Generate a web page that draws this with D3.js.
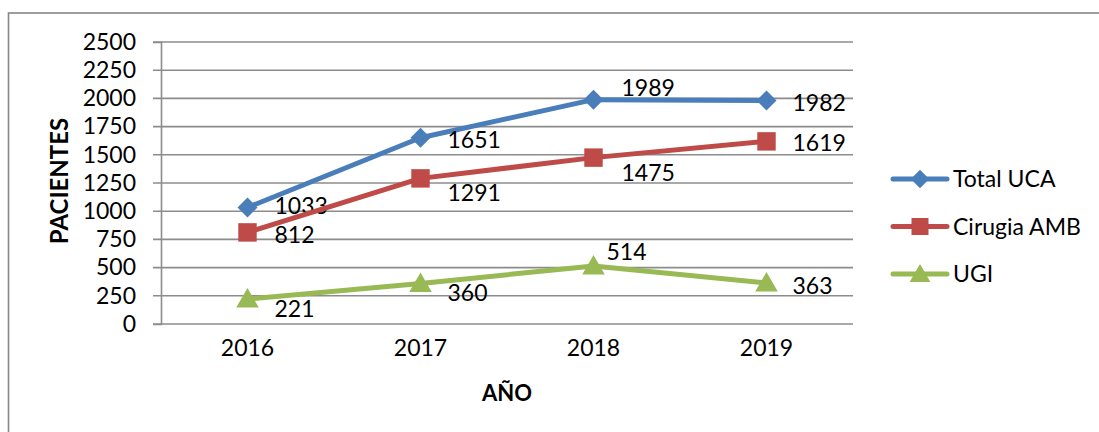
<!DOCTYPE html>
<html>
<head>
<meta charset="utf-8">
<script src="https://cdn.jsdelivr.net/npm/d3@7"></script>
<style>
  body { margin: 0; background: #fff; }
  text { font-family: Lato, "Open Sans", sans-serif; fill: #000; }
</style>
</head>
<body>
<div id="canvas"></div>
<script>
// data
var years = ["2016", "2017", "2018", "2019"];
var totalUCA = [1033, 1651, 1989, 1982];
var cirugiaAMB = [812, 1291, 1475, 1619];
var ugi = [221, 360, 514, 363];
var seriesNames = ["Total UCA", "Cirugia AMB", "UGI"];
var yTicks = [0, 250, 500, 750, 1000, 1250, 1500, 1750, 2000, 2250, 2500];

// label nudges (pixels) so labels sit like the original
var labelNudge = [
  [[27, -2], [27, 2], [28, -12], [26, 3]],
  [[27, 3], [27, 15], [28, 15], [26, 2]],
  [[27, 10], [27, 10], [13, -14], [26, 3]]
];

var width = 1099, height = 432;
var margin = {left: 161, right: 246, top: 42, bottom: 108};

var svg = d3.select("#canvas").append("svg")
  .attr("width", width)
  .attr("height", height);

// outer chart border (cropped on right and bottom)
svg.append("rect")
  .attr("x", 8.5).attr("y", 13)
  .attr("width", width + 20).attr("height", height + 20)
  .attr("fill", "none")
  .attr("stroke", "#868686")
  .attr("stroke-width", 1.6);

var xScale = d3.scaleBand().domain(years).range([margin.left, width - margin.right]);
var yScale = d3.scaleLinear().domain([0, 2500]).range([height - margin.bottom, margin.top]);

// horizontal gridlines
svg.append("g").selectAll("line")
  .data(yTicks).enter().append("line")
  .attr("x1", margin.left - 8)
  .attr("x2", width - margin.right)
  .attr("y1", function(d){ return yScale(d); })
  .attr("y2", function(d){ return yScale(d); })
  .attr("stroke", "#8c8c8c")
  .attr("stroke-width", 1.6);

// y axis
var yAxis = svg.append("g")
  .attr("transform", "translate(" + margin.left + ",0)")
  .call(d3.axisLeft(yScale).tickValues(yTicks).tickFormat(d3.format("d")).tickSize(8).tickPadding(17));
yAxis.select(".domain").attr("stroke", "#8c8c8c").attr("stroke-width", 1.6);
yAxis.selectAll(".tick line").remove();
yAxis.selectAll("text").attr("font-size", 23).attr("fill", "#000")
  .style("font-family", "Lato, sans-serif");

// x axis labels
var xAxis = svg.append("g")
  .attr("transform", "translate(0," + (height - margin.bottom) + ")")
  .call(d3.axisBottom(xScale).tickSize(0).tickPadding(16));
xAxis.select(".domain").remove();
xAxis.selectAll("text").attr("font-size", 23).attr("fill", "#000")
  .style("font-family", "Lato, sans-serif");

// axis titles
svg.append("text")
  .attr("transform", "translate(68," + (yScale(1250) - 2) + ") rotate(-90)")
  .attr("text-anchor", "middle")
  .attr("font-size", 24)
  .attr("font-weight", "bold")
  .text("PACIENTES");

svg.append("text")
  .attr("x", 507).attr("y", 401)
  .attr("text-anchor", "middle")
  .attr("font-size", 22)
  .attr("font-weight", "bold")
  .text("AÑO");

var colors = ["#4a7ebb", "#be4b48", "#98b954"];
var allSeries = [totalUCA, cirugiaAMB, ugi];
// diamond = square turned 45 degrees
var symbols = [d3.symbolSquare, d3.symbolSquare, d3.symbolTriangle];
var symbolSizes = [200, 340, 220];
var symbolTurn = [" rotate(45)", "", ""];

var genLine = d3.line()
  .x(function(d, i){ return xScale(years[i]) + xScale.bandwidth() / 2; })
  .y(function(d){ return yScale(d); });

allSeries.forEach(function(values, s){
  var g = svg.append("g");
  g.append("path")
    .attr("d", genLine(values))
    .attr("fill", "none")
    .attr("stroke", colors[s])
    .attr("stroke-width", 5)
    .attr("stroke-linejoin", "round");

  g.selectAll("path.mark")
    .data(values).enter().append("path")
    .attr("class", "mark")
    .attr("d", d3.symbol().type(symbols[s]).size(symbolSizes[s]))
    .attr("transform", function(d, i){
      var ty = s == 2 ? 2 : 0;
      return "translate(" + (xScale(years[i]) + xScale.bandwidth() / 2) + "," + (yScale(d) + ty) + ")" + symbolTurn[s];
    })
    .attr("fill", colors[s]);

  g.selectAll("text")
    .data(values).enter().append("text")
    .attr("x", function(d, i){ return xScale(years[i]) + xScale.bandwidth() / 2 + labelNudge[s][i][0]; })
    .attr("y", function(d, i){ return yScale(d) + labelNudge[s][i][1]; })
    .attr("dy", "0.35em")
    .attr("font-size", 23)
    .text(function(d){ return d; });
});

// legend
var legend = svg.append("g").attr("transform", "translate(893,179)");
seriesNames.forEach(function(name, s){
  var row = legend.append("g").attr("transform", "translate(0," + (s * 47.5) + ")");
  row.append("line")
    .attr("x1", 0).attr("x2", 54)
    .attr("stroke", colors[s])
    .attr("stroke-width", 5)
    .attr("stroke-linecap", "round");
  row.append("path")
    .attr("d", d3.symbol().type(symbols[s]).size(symbolSizes[s] * 0.85))
    .attr("transform", "translate(27," + (s == 2 ? 2 : 0) + ")" + symbolTurn[s])
    .attr("fill", colors[s]);
  row.append("text")
    .attr("x", 60)
    .attr("dy", "0.35em")
    .attr("font-size", 23)
    .text(name);
});
</script>
</body>
</html>
